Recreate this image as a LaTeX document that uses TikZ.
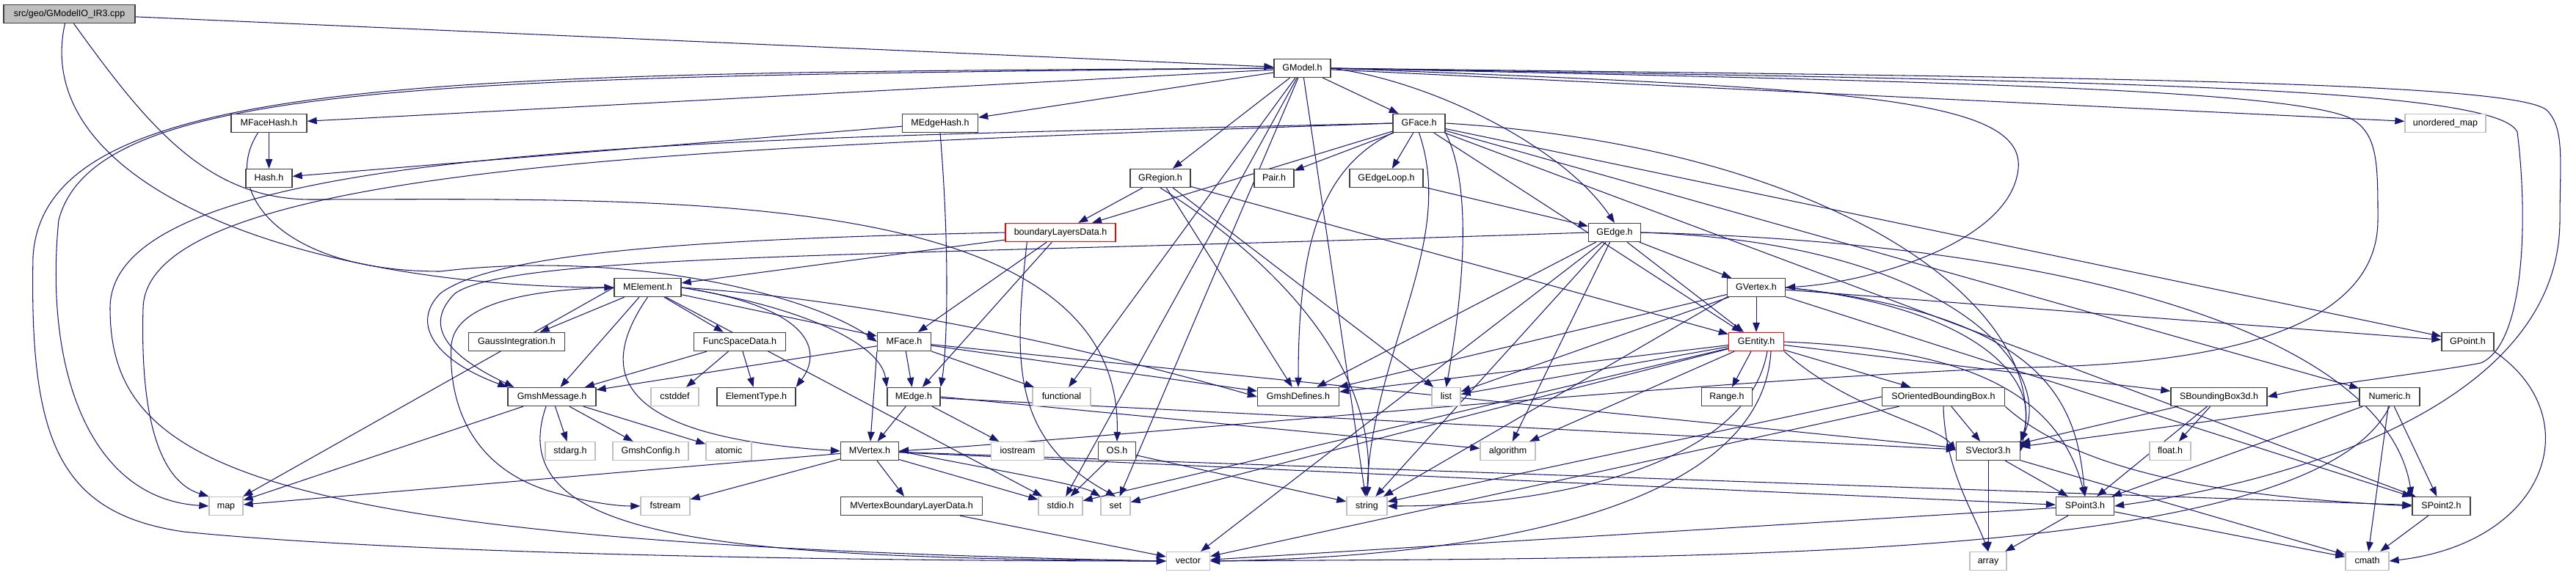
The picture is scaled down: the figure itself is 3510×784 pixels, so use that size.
\documentclass[tikz,border=0pt]{standalone}
\usepackage{fontspec}
\setmainfont{Liberation Sans}
\usetikzlibrary{arrows.meta,backgrounds}

\definecolor{edgeblue}{RGB}{25,25,112}
\definecolor{sysgray}{RGB}{191,191,191}

\begin{document}
\begin{tikzpicture}[x=1pt, y=-1pt,
    font=\fontsize{12.5}{15}\selectfont,
    hdr/.style={draw=black!75, line width=1.3pt, fill=white, inner sep=0pt,
        minimum height=25pt, text height=9pt, text depth=2.5pt},
    sys/.style={hdr, draw=sysgray},
    bad/.style={hdr, draw=red},
    dep/.style={draw=edgeblue, line width=1.05pt,
        -{Triangle[length=13pt, width=9.5pt]}}]

  \useasboundingbox (0,0) rectangle (3510,784);

  % rank heights (top to bottom)
  \def\rA{19}  \def\rB{93}  \def\rC{168} \def\rD{243}
  \def\rE{317} \def\rF{392} \def\rG{466} \def\rH{541}
  \def\rI{615} \def\rJ{690} \def\rK{765}

  % the file itself
  \node[hdr, fill=sysgray, minimum width=179pt] (cpp) at (94.5,\rA) {src/geo/GModelIO\_IR3.cpp};

  % project headers
  \foreach \nm/\x/\y/\w/\lbl in {
      GModel/1774.5/\rB/77/GModel.h,
      MFaceHash/366.5/\rC/103/MFaceHash.h, MEdgeHash/1281/\rC/103/MEdgeHash.h,
      GFace/1933.5/\rC/71/GFace.h,
      Hash/366.5/\rD/63/Hash.h, GRegion/1581/\rD/82/GRegion.h,
      Pair/1736/\rD/54/Pair.h, GEdgeLoop/1889/\rD/100/GEdgeLoop.h,
      GEdge/2200/\rE/71/GEdge.h,
      MElement/882.5/\rF/91/MElement.h, GVertex/2393/\rF/79/GVertex.h,
      GaussInt/704/\rG/131/GaussIntegration.h, FuncSpace/1008/\rG/125/FuncSpaceData.h,
      MFace/1232/\rG/73/MFace.h, GPoint/3362.5/\rG/71/GPoint.h,
      GmshMessage/752/\rH/120/GmshMessage.h, ElementType/1030.5/\rH/107/ElementType.h,
      MEdge/1245/\rH/72/MEdge.h, GmshDefines/1769/\rH/111/GmshDefines.h,
      Range/2353/\rH/69/Range.h, SOBB/2648/\rH/167/SOrientedBoundingBox.h,
      SBB3d/3023.5/\rH/131/SBoundingBox3d.h, Numeric/3256/\rH/82/Numeric.h,
      MVertex/1185/\rI/79/MVertex.h, OS/1522/\rI/51/OS.h, SVector3/2709/\rI/87/SVector3.h,
      MVBLD/1242/\rJ/193/MVertexBoundaryLayerData.h,
      SPoint3/2841/\rJ/79/SPoint3.h, SPoint2/3326.5/\rJ/79/SPoint2.h}
    \node[hdr, minimum width=\w pt] (\nm) at (\x,\y) {\lbl};

  % headers whose graph was truncated
  \foreach \nm/\x/\y/\w/\lbl in {
      bLD/1445/\rE/150/boundaryLayersData.h, GEntity/2393/\rG/75/GEntity.h}
    \node[bad, minimum width=\w pt] (\nm) at (\x,\y) {\lbl};

  % system headers
  \foreach \nm/\x/\y/\w/\lbl in {
      umap/3332/\rC/110/unordered\_map,
      cstddef/919.5/\rH/65/cstddef, functional/1446.5/\rH/79/functional,
      list/1970.5/\rH/39/list,
      stdarg/777/\rI/68/stdarg.h, GmshConfig/886.5/\rI/103/GmshConfig.h,
      atomic/993/\rI/62/atomic, iostream/1386.5/\rI/72/iostream,
      algorithm/2054.5/\rI/75/algorithm, float/2957/\rI/56/float.h,
      map/308/\rJ/46/map, fstream/906.5/\rJ/67/fstream, stdio/1445/\rJ/60/stdio.h,
      set/1520/\rJ/40/set, string/1862.5/\rJ/55/string,
      vector/1619/\rK/59/vector, array/2709/\rK/50/array, cmath/3225.5/\rK/59/cmath}
    \node[sys, minimum width=\w pt] (\nm) at (\x,\y) {\lbl};

  \begin{scope}[on background layer]
    % plain include edges
    \foreach \a/\b in {
        cpp/GModel, GModel/MFaceHash, GModel/MEdgeHash, GModel/GFace, GModel/GRegion,
        GModel/umap, GModel/functional, GModel/string, GModel/set, GModel/stdio,
        MFaceHash/Hash, MEdgeHash/Hash,
        GFace/Pair, GFace/GEdgeLoop, GFace/bLD, GFace/GEntity, GFace/GPoint,
        GFace/Numeric, GFace/SPoint2,
        GRegion/bLD, GRegion/GEntity, GRegion/GmshDefines, GRegion/list,
        GEdgeLoop/GEdge,
        bLD/MElement, bLD/MFace, bLD/MEdge,
        GEdge/GVertex, GEdge/GEntity, GEdge/GmshDefines, GEdge/string, GEdge/vector,
        GEdge/algorithm,
        GVertex/GEntity, GVertex/GPoint, GVertex/GmshDefines, GVertex/list,
        GVertex.south west/string, GVertex/SPoint2,
        GEntity/Range, GEntity/SOBB, GEntity/SBB3d, GEntity/GmshDefines, GEntity/list,
        GEntity/set, GEntity/stdio, GEntity/algorithm,
        MElement/GaussInt, MElement/FuncSpace, MElement/GmshMessage, MElement/MFace,
        MElement.west/map, MElement/stdio,
        FuncSpace/GmshMessage, FuncSpace/cstddef, FuncSpace/ElementType,
        MFace/MEdge, MFace.south west/MVertex, MFace/GmshMessage, MFace/functional,
        MFace/GmshDefines, MFace/SVector3,
        MEdge/MVertex, MEdge/iostream, MEdge/SVector3, MEdge.east/algorithm,
        GmshMessage/stdarg, GmshMessage/GmshConfig, GmshMessage/atomic, GmshMessage/map,
        MVertex/MVBLD, MVertex/map, MVertex/fstream, MVertex/stdio, MVertex/SPoint3,
        MVertex/SPoint2,
        MVBLD/vector, OS/stdio, OS/string,
        SOBB/SVector3, SOBB.west/string, SOBB/vector,
        SBB3d/float, SBB3d/SPoint3, SBB3d/SVector3,
        Numeric/SVector3, Numeric/SPoint3, Numeric/SPoint2, Numeric/cmath,
        SVector3/SPoint3, SVector3/array, SVector3/cmath,
        SPoint3/array, SPoint3/cmath, SPoint3/vector,
        SPoint2/cmath}
      \draw[dep] (\a) -- (\b);

    % routed edges
    \draw[dep] ([xshift=-6pt]cpp.south) .. controls (40,250) and (400,390) .. (MElement.west);
    \draw[dep] ([xshift=6pt]cpp.south) .. controls (200,170) and (280,270) .. (420,272)
        .. controls (900,272) and (1530,250) .. (OS.north);
    \draw[dep] ([xshift=-15pt]MFaceHash.south) .. controls (300,260) and (380,370) .. (600,370)
        .. controls (850,340) and (1100,400) .. (MFace.west);

    % GModel.h, round the left side
    \draw[dep] (GModel.west) .. controls (600,105) and (130,110) .. (80,300)
        .. controls (60,500) and (120,680) .. (map.west);
    \draw[dep] (GModel.west) .. controls (600,100) and (60,100) .. (45,350)
        .. controls (40,600) and (80,700) .. (250,725)
        .. controls (600,760) and (1300,765) .. (vector.west);
    % GModel.h, round the right side
    \draw[dep] (GModel.east) .. controls (1950,110) and (2130,200) .. (GEdge.north);
    \draw[dep] (GModel.east) .. controls (2500,120) and (2760,130) .. (2750,230)
        .. controls (2740,330) and (2550,385) .. (GVertex.east);
    \draw[dep] (GModel.east) .. controls (2800,110) and (3400,115) .. (3430,180)
        .. controls (3445,300) and (3440,470) .. (3380,495)
        .. controls (3300,510) and (3160,525) .. (SBB3d.east);
    \draw[dep] (GModel.east) .. controls (2800,105) and (3420,110) .. (3470,150)
        .. controls (3495,175) and (3488,220) .. (3488,300)
        .. controls (3488,560) and (3100,660) .. (SPoint3.east);
    \draw[dep] (GModel.east) .. controls (2600,110) and (3100,120) .. (3200,160)
        .. controls (3240,180) and (3240,220) .. (3240,300)
        .. controls (3240,420) and (3100,490) .. (2800,500)
        .. controls (2400,510) and (1600,590) .. (MVertex.east);

    % GFace.h
    \draw[dep] (GFace.west) .. controls (1000,190) and (150,190) .. (150,420)
        .. controls (150,640) and (350,740) .. (vector.west);
    \draw[dep] (GFace.west) .. controls (1000,200) and (200,220) .. (195,420)
        .. controls (190,600) and (230,660) .. (map.north west);
    \draw[dep] (GFace.south west) .. controls (1800,230) and (1769,330) .. (GmshDefines.north);
    \draw[dep] (GFace.south east) .. controls (2010,260) and (1990,420) .. (list.north);
    \draw[dep] (GFace.south) .. controls (1985,330) and (1870,480) .. (string.north);
    \draw[dep] (GFace.east) .. controls (2500,200) and (2800,420) .. (SVector3.east);
    \draw[dep] (GRegion.south) .. controls (1700,330) and (1880,480) .. (string.north);

    % into GmshMessage.h from above
    \draw[dep] (bLD.west) .. controls (1000,325) and (680,340) .. (600,400)
        .. controls (560,440) and (590,490) .. (GmshMessage.north west);
    \draw[dep] (GEdge.west) .. controls (1200,350) and (700,345) .. (620,400)
        .. controls (580,440) and (600,480) .. ([xshift=9pt]GmshMessage.north west);
    \draw[dep] ([xshift=30pt]bLD.south west) .. controls (1380,500) and (1380,600) .. (set.north);
    \draw[dep] (MEdgeHash.south) .. controls (1295,350) and (1290,480) .. (MEdge.north east);

    % MElement.h
    \draw[dep] (MElement.east) .. controls (1200,410) and (1500,480) .. (GmshDefines.west);
    \draw[dep] (MElement.east) .. controls (1100,420) and (1200,470) .. (MEdge.north west);
    \draw[dep] (MElement.east) .. controls (1110,420) and (1120,480) .. (ElementType.north east);
    \draw[dep] (MElement.south) .. controls (810,510) and (840,595) .. (MVertex.west);
    \draw[dep] (MElement.west) .. controls (700,395) and (620,420) .. (615,470)
        .. controls (610,560) and (650,640) .. (750,670)
        .. controls (800,685) and (840,690) .. (fstream.west);
    \draw[dep] ([xshift=-8pt]GmshMessage.south) .. controls (680,740) and (1000,760) .. (vector.west);
    \draw[dep] (MVertex.east) .. controls (1350,640) and (1470,660) .. (set.north west);

    % GEntity.h, GVertex.h, GEdge.h
    \draw[dep] ([xshift=15pt]GEntity.south) .. controls (2380,640) and (2100,690) .. (string.east);
    \draw[dep] ([xshift=20pt]GEntity.south) .. controls (2400,700) and (2000,760) .. (vector.east);
    \draw[dep] (GEntity.east) .. controls (2650,475) and (2800,520) .. (SPoint3.north);
    \draw[dep] (GEntity.south east) .. controls (2520,560) and (2640,580) .. (SVector3.west);
    \draw[dep] (GVertex.east) .. controls (2700,420) and (2780,520) .. (SVector3.north east);
    \draw[dep] (GVertex.east) .. controls (2800,430) and (2830,560) .. (SPoint3.north);
    \draw[dep] (GEdge.east) .. controls (2650,330) and (2800,500) .. (SVector3.north east);
    \draw[dep] (GEdge.east) .. controls (2800,330) and (3250,450) .. (SPoint2.north west);

    % lower right
    \draw[dep] (SOBB.south east) .. controls (2850,660) and (3100,680) .. (SPoint2.west);
    \draw[dep] (SOBB.south) .. controls (2650,640) and (2690,700) .. (array.north);
    \draw[dep] (Numeric.south) .. controls (3150,770) and (2300,760) .. (vector.east);
    \draw[dep] (GPoint.south east) .. controls (3530,570) and (3470,740) .. (cmath.east);
  \end{scope}

\end{tikzpicture}
\end{document}
